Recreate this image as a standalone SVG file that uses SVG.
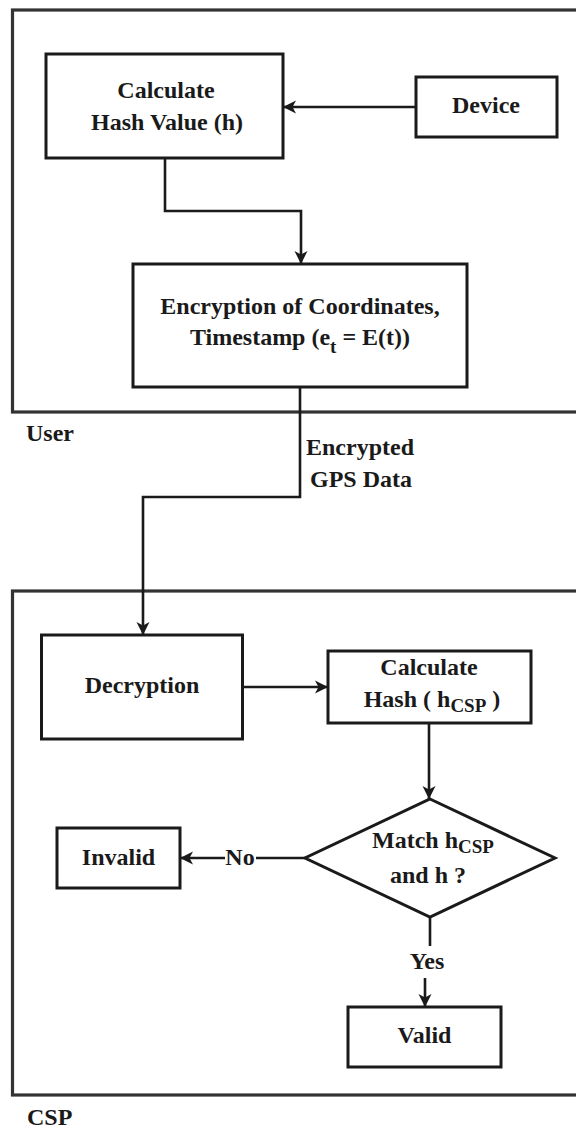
<svg xmlns="http://www.w3.org/2000/svg" width="576" height="1128" viewBox="0 0 576 1128">
<style>
text{font-family:'Liberation Serif','Tinos','Times New Roman','DejaVu Serif',serif;font-weight:bold;font-size:24px;fill:#1a1a1a}
.t{text-anchor:middle}
.box{fill:#fff;stroke:#1a1a1a;stroke-width:3}
.cont{fill:none;stroke:#333;stroke-width:3.2}
.edge{fill:none;stroke:#1a1a1a;stroke-width:2.6}
.sub{font-size:19px}
</style>
<defs>
<marker id="arr" markerUnits="userSpaceOnUse" markerWidth="16" markerHeight="16" refX="13" refY="7" orient="auto">
<path d="M0,0.5 L13,7 L0,13.5 L3.5,7 z" fill="#1a1a1a"/>
</marker>
</defs>
<rect width="576" height="1128" fill="#fff"/>
<g id="user-container">
<rect class="cont" x="12.5" y="10" width="600" height="402"/>
<text x="26" y="441" font-family="Liberation Serif, serif">User</text>
</g>
<g id="csp-container">
<rect class="cont" x="12.5" y="591" width="600" height="504"/>
<text x="27" y="1125" font-family="Liberation Serif, serif">CSP</text>
</g>
<g id="connectors">
<path class="edge" d="M416,107 H283" marker-end="url(#arr)"/>
<path class="edge" d="M165,158 V211 H301 V264" marker-end="url(#arr)"/>
<path class="edge" d="M300,387 V497 H143 V635" marker-end="url(#arr)"/>
<path class="edge" d="M242,687 H328" marker-end="url(#arr)"/>
<path class="edge" d="M429,723 V799" marker-end="url(#arr)"/>
<path class="edge" d="M305,858 H180" marker-end="url(#arr)"/>
<path class="edge" d="M430,917 V962 H425 V1007" marker-end="url(#arr)"/>
<rect x="302" y="434" width="114" height="60" fill="#fff"/>
<text class="t" x="360" y="455">Encrypted</text>
<text class="t" x="361" y="487">GPS Data</text>
<rect x="225" y="846" width="31" height="24" fill="#fff"/>
<text class="t" x="240" y="865">No</text>
<rect x="408" y="946" width="38" height="32" fill="#fff"/>
<text class="t" x="427" y="969">Yes</text>
</g>
<g id="hash">
<rect class="box" x="46" y="54" width="237" height="104"/>
<text class="t" x="166" y="98">Calculate</text>
<text class="t" x="167" y="130">Hash Value (h)</text>
</g>
<g id="device">
<rect class="box" x="416" y="77" width="141" height="60"/>
<text class="t" x="486" y="113">Device</text>
</g>
<g id="encryption">
<rect class="box" x="133" y="264" width="334" height="123"/>
<text class="t" x="300" y="314">Encryption of Coordinates,</text>
<text class="t" x="300" y="345">Timestamp (e<tspan class="sub" dy="8">t</tspan><tspan dy="-8"> = E(t))</tspan></text>
</g>
<g id="decryption">
<rect class="box" x="41.5" y="635" width="201" height="104"/>
<text class="t" x="142" y="693">Decryption</text>
</g>
<g id="calc-hash-csp">
<rect class="box" x="328" y="651" width="203" height="72"/>
<text class="t" x="429" y="675">Calculate</text>
<text class="t" x="432" y="707">Hash ( h<tspan class="sub" dy="5">CSP</tspan><tspan dy="-5"> )</tspan></text>
</g>
<g id="match">
<polygon class="box" points="430,799 555,858 430,917 305,858"/>
<text class="t" x="433" y="848">Match h<tspan class="sub" dy="5">CSP</tspan></text>
<text class="t" x="428" y="883">and h ?</text>
</g>
<g id="invalid">
<rect class="box" x="57" y="828" width="123" height="60"/>
<text class="t" x="118.5" y="865">Invalid</text>
</g>
<g id="valid">
<rect class="box" x="348" y="1007" width="153" height="60"/>
<text class="t" x="424.5" y="1043">Valid</text>
</g>
</svg>
